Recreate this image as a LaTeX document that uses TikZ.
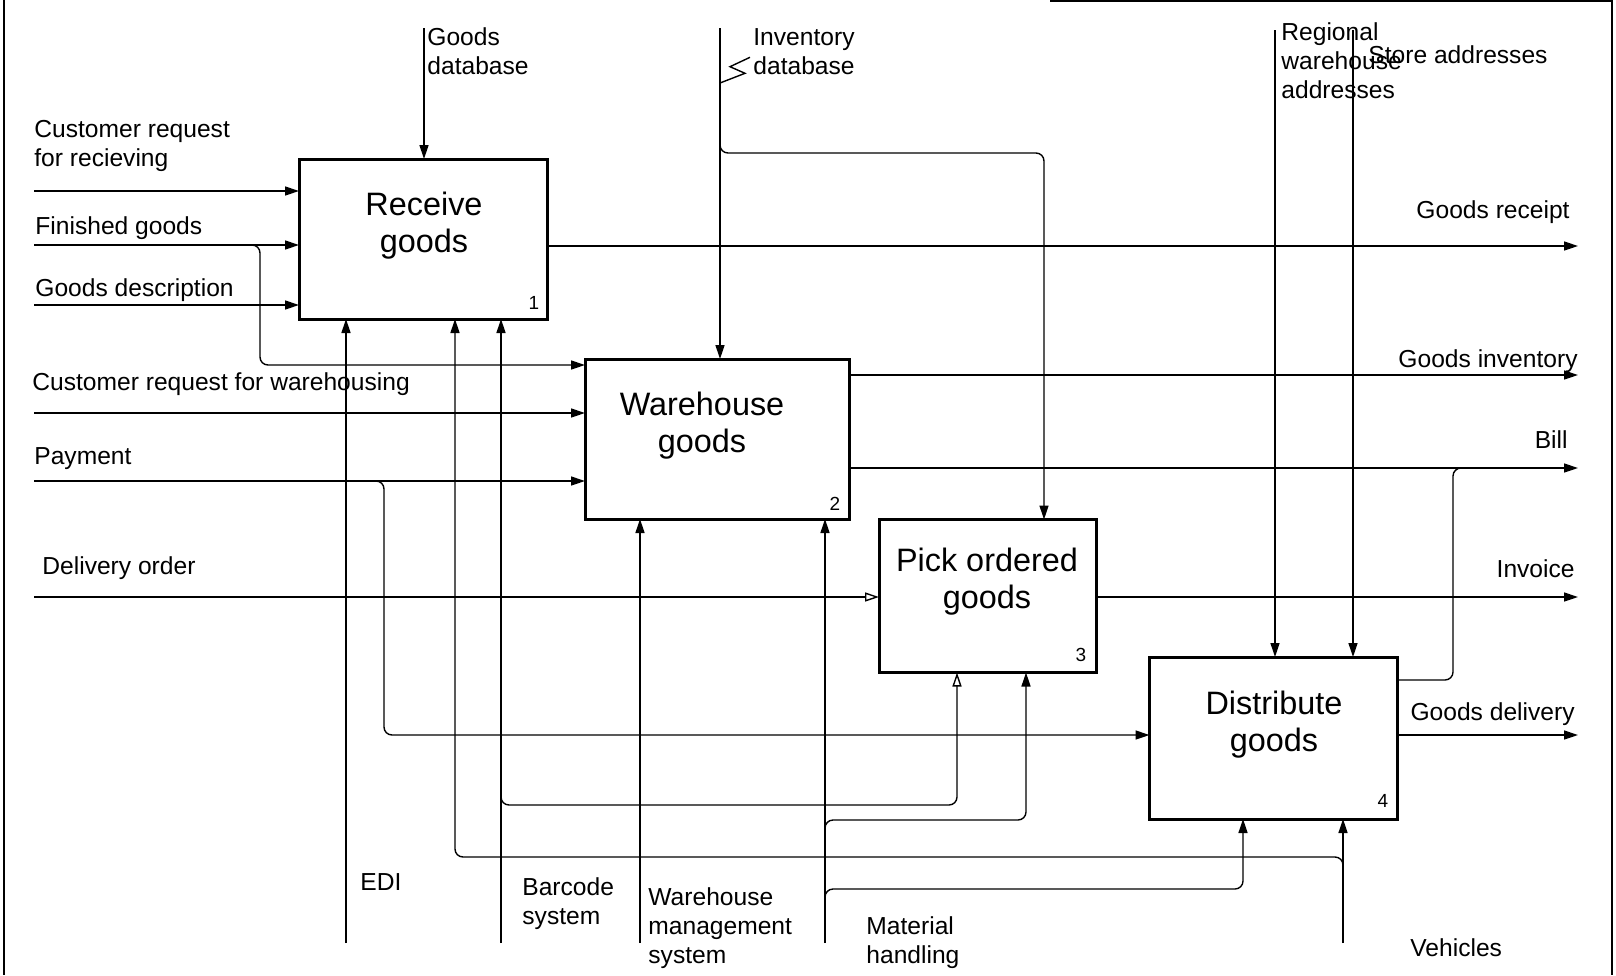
\documentclass[tikz,border=0pt]{standalone}
\usepackage{fontspec}
\setmainfont{Liberation Sans}
\usetikzlibrary{arrows.meta}
\begin{document}
\begin{tikzpicture}[x=0.5pt,y=-0.5pt,
  box/.style={draw,line width=1.5pt,inner sep=0pt,outer sep=0pt,fill=none},
  boxlbl/.style={align=center,inner sep=0pt,font=\fontsize{16.2}{18.5}\selectfont},
  boxnum/.style={inner sep=0pt,font=\fontsize{9.5}{10}\selectfont},
  lbl/.style={inner sep=0pt,align=left,font=\fontsize{12.3}{14.5}\selectfont},
  conn/.style={line width=0.7pt},
  arr/.style={conn,-{Triangle[length=7pt,width=4.5pt]}},
  oarr/.style={conn,-{Triangle[open,length=7pt,width=4.5pt]}},
  br/.style={rounded corners=4pt},
  frame/.style={line width=0.7pt}]
\useasboundingbox (0,0) rectangle (1616,975);
% frame
\draw[frame] (4,0) -- (4,975);
\draw[frame] (1612,0) -- (1612,975);
\draw[line width=1pt] (1050,1) -- (1612,1);
% boxes
\node[box,minimum width=124pt,minimum height=80pt] (b1) at (423,239) {};
\node[box,minimum width=132pt,minimum height=80pt] (b2) at (717,439) {};
\node[box,minimum width=108.5pt,minimum height=76.5pt] (b3) at (987.5,596) {};
\node[box,minimum width=124pt,minimum height=81pt] (b4) at (1273.5,738) {};
\node[boxlbl] (t1) at (424,226) {Receive\\goods};
\node[boxlbl] (t2) at (702,426) {Warehouse\\goods};
\node[boxlbl] (t3) at (987,582) {Pick ordered\\goods};
\node[boxlbl] (t4) at (1274,725) {Distribute\\goods};
\node[boxnum] (n1) at (534,303) {1};
\node[boxnum] (n2) at (835,504) {2};
\node[boxnum] (n3) at (1081,655) {3};
\node[boxnum] (n4) at (1383,801) {4};
% ---------- inputs
\coordinate (i1) at (34,191);
\coordinate (i2) at (34,245);
\coordinate (i3) at (34,305);
\coordinate (i4) at (34,413);
\coordinate (i5) at (34,481);
\coordinate (i6) at (34,597);
\draw[arr] (i1) -- (i1 -| b1.west);
\draw[arr] (i2) -- (i2 -| b1.west);
\draw[arr] (i3) -- (i3 -| b1.west);
\draw[arr] (i4) -- (i4 -| b2.west);
\draw[arr] (i5) -- (i5 -| b2.west);
\draw[oarr] (i6) -- (i6 -| b3.west);
\coordinate (j2) at (248,245);
\coordinate (j2b) at (260,365);
\draw[arr,br] (j2) -- (260,245) -- (j2b) -- (j2b -| b2.west);
\coordinate (j5) at (371,481);
\coordinate (j5b) at (384,735);
\draw[arr,br] (j5) -- (384,481) -- (j5b) -- (j5b -| b4.west);
\node[lbl,anchor=west] (li1) at (34,146) {Customer request\\for recieving};
\node[lbl,anchor=west] (li2) at (35,228) {Finished goods};
\node[lbl,anchor=west] (li3) at (35,290) {Goods description};
\node[lbl,anchor=west] (li4) at (32,384) {Customer request for warehousing};
\node[lbl,anchor=west] (li5) at (34,459) {Payment};
\node[lbl,anchor=west] (li6) at (42,568) {Delivery order};
% ---------- controls
\coordinate (c1) at (424,28);
\coordinate (c2) at (720,28);
\coordinate (c3) at (1275,30);
\coordinate (c4) at (1353,30);
\draw[arr] (c1) -- (c1 |- b1.north);
\draw[arr] (c2) -- (c2 |- b2.north);
\draw[arr] (c3) -- (c3 |- b4.north);
\draw[arr] (c4) -- (c4 |- b4.north);
\coordinate (jc2) at (720,140);
\coordinate (jc2b) at (1044,153);
\draw[arr,br] (jc2) -- (720,153) -- (jc2b) -- (jc2b |- b3.north);
\coordinate (sq) at (720,83);
\draw[conn] (sq) -- (745,73.3) -- (730,66.7) -- (750,57.3);
\node[lbl,anchor=west] (lc1) at (427,51) {Goods\\database};
\node[lbl,anchor=west] (lc2) at (753,52) {Inventory\\database};
\node[lbl,anchor=west] (lc3) at (1281,61) {Regional\\warehouse\\addresses};
\node[lbl,anchor=west] (lc4) at (1368,55) {Store addresses};
% ---------- outputs
\coordinate (o1) at (1578,246);
\coordinate (o2) at (1578,375);
\coordinate (o3) at (1578,468);
\coordinate (o4) at (1578,597);
\coordinate (o5) at (1578,735);
\draw[arr] (o1 -| b1.east) -- (o1);
\draw[arr] (o2 -| b2.east) -- (o2);
\draw[arr] (o3 -| b2.east) -- (o3);
\draw[arr] (o4 -| b3.east) -- (o4);
\draw[arr] (o5 -| b4.east) -- (o5);
\coordinate (jo) at (1453,680);
\draw[conn,br] (jo -| b4.east) -- (jo) -- (1453,468) -- (1467,468);
\node[lbl,anchor=east] (lo1) at (1570,212) {Goods receipt};
\node[lbl,anchor=east] (lo2) at (1578,361) {Goods inventory};
\node[lbl,anchor=east] (lo3) at (1568,440) {Bill};
\node[lbl,anchor=east] (lo4) at (1575,569) {Invoice};
\node[lbl,anchor=east] (lo5) at (1575,714) {Goods delivery};
% ---------- mechanisms
\coordinate (m1) at (346,943);
\coordinate (m2) at (501,943);
\coordinate (m3) at (640,943);
\coordinate (m4) at (825,943);
\coordinate (m5) at (1343,943);
\draw[arr] (m1) -- (m1 |- b1.south);
\draw[arr] (m2) -- (m2 |- b1.south);
\draw[arr] (m3) -- (m3 |- b2.south);
\draw[arr] (m4) -- (m4 |- b2.south);
\draw[arr] (m5) -- (m5 |- b4.south);
% barcode -> box 3
\coordinate (jm2) at (957,805);
\draw[oarr,br] (501,792) -- (501,805) -- (jm2) -- (jm2 |- b3.south);
% material handling -> box 3 and box 4
\coordinate (jm4a) at (1026,820);
\draw[arr,br] (825,833) -- (825,820) -- (jm4a) -- (jm4a |- b3.south);
\coordinate (jm4b) at (1243,889);
\draw[arr,br] (825,902) -- (825,889) -- (jm4b) -- (jm4b |- b4.south);
% vehicles -> box 1
\coordinate (jm5) at (455,857);
\draw[arr,br] (1343,870) -- (1343,857) -- (jm5) -- (jm5 |- b1.south);
\node[lbl,anchor=west] (lm1) at (360,882) {EDI};
\node[lbl,anchor=west] (lm2) at (522,904) {Barcode\\system};
\node[lbl,anchor=west] (lm3) at (648,928) {Warehouse\\management\\system};
\node[lbl,anchor=west] (lm4) at (866,943) {Material\\handling};
\node[lbl,anchor=west] (lm5) at (1410,948) {Vehicles};
\end{tikzpicture}
\end{document}
